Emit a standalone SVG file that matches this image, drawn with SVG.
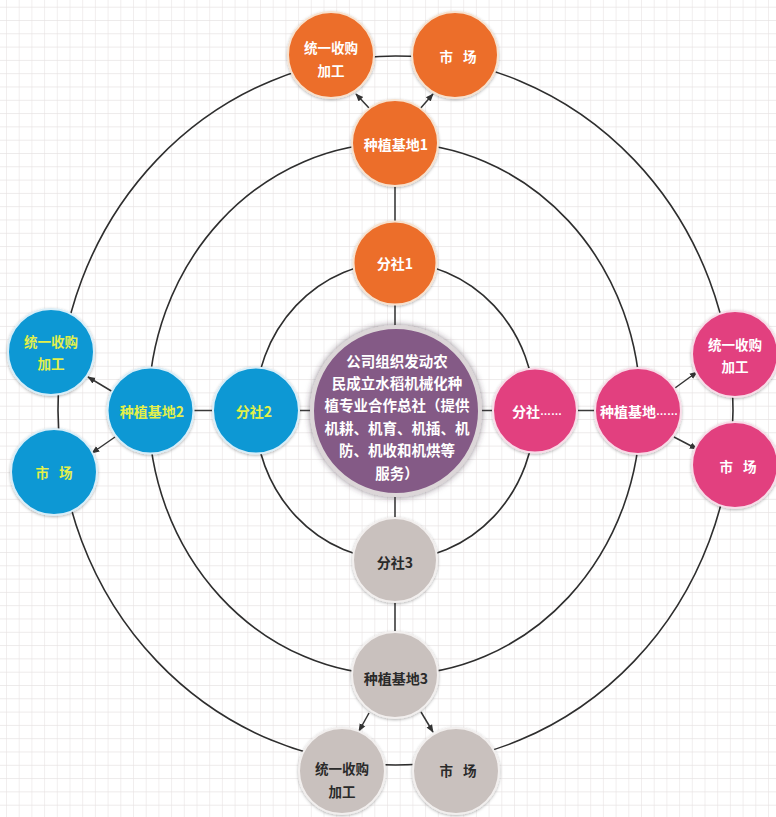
<svg xmlns="http://www.w3.org/2000/svg" width="776" height="817" viewBox="0 0 776 817">
<defs>
<pattern id="grid" x="6" y="6.7" width="12.7" height="13.3" patternUnits="userSpaceOnUse">
<path d="M0,0 V13.3 M0,0 H12.7" fill="none" stroke="#e8e3e3" stroke-width="1.2"/>
</pattern>
<filter id="sh" x="-30%" y="-30%" width="160%" height="160%">
<feDropShadow dx="0" dy="1" stdDeviation="1.6" flood-color="#000" flood-opacity="0.3"/>
</filter>
<filter id="shc" x="-30%" y="-30%" width="160%" height="160%">
<feDropShadow dx="0" dy="0" stdDeviation="3" flood-color="#3a2a3a" flood-opacity="0.6"/>
</filter>
<marker id="arr" viewBox="0 0 10 10" refX="9" refY="5" markerWidth="8" markerHeight="8" orient="auto" markerUnits="userSpaceOnUse">
<path d="M0,1 L10,5 L0,9 z" fill="#333"/>
</marker>
<style>
.ring{fill:none;stroke:#2e2e2e;stroke-width:1.6}
.spoke{fill:none;stroke:#3a3a3a;stroke-width:1.6}
.arrow{fill:none;stroke:#333;stroke-width:1.5;marker-end:url(#arr)}
.node circle{stroke-width:2;filter:url(#sh)}
.o circle{fill:#ec6e2b;stroke:#f7e2cf}
.b circle{fill:#0f98d4;stroke:#d9eef8}
.p circle{fill:#e2417f;stroke:#f8dce8}
.g circle{fill:#c9c1be;stroke:#f2efee}
text{font-family:"Noto Sans CJK SC","Microsoft YaHei",sans-serif;font-weight:bold;font-size:14px;text-anchor:middle;dominant-baseline:central}
.o text,.p text{fill:#ffffff}
.b text{fill:#e3f04a}
.g text{fill:#2a2a2a}
.sm{font-size:13.5px}
.dots{font-family:"Liberation Sans",sans-serif;font-size:11px}
.ctr circle{fill:#845a86;stroke:#dcd6d8;stroke-width:4;filter:url(#shc)}
.ctr text{fill:#ffffff;font-size:14.5px}
</style>
</defs>
<rect width="776" height="817" fill="#ffffff"/>
<rect width="776" height="817" fill="url(#grid)"/>

<g id="connectors">
<ellipse class="ring" cx="395.5" cy="410.5" rx="337.5" ry="354.5"/>
<ellipse class="ring" cx="394.5" cy="409" rx="246" ry="266"/>
<ellipse class="ring" cx="395" cy="411" rx="140" ry="149"/>
<line class="spoke" x1="395" y1="143" x2="395" y2="675"/>
<line class="spoke" x1="150" y1="410.5" x2="638" y2="410.5"/>
<line class="arrow" x1="369" y1="108" x2="356" y2="94"/>
<line class="arrow" x1="419" y1="110" x2="433" y2="94"/>
<line class="arrow" x1="113" y1="392" x2="88" y2="377"/>
<line class="arrow" x1="115" y1="437" x2="92" y2="453"/>
<line class="arrow" x1="675" y1="388" x2="697" y2="372"/>
<line class="arrow" x1="674" y1="437" x2="697" y2="449"/>
<line class="arrow" x1="369" y1="713" x2="359" y2="731"/>
<line class="arrow" x1="421" y1="712" x2="433" y2="732"/>
</g>

<g id="top-jg" class="node o"><circle cx="331" cy="55" r="43"/><text class="sm" x="331" y="47">统一收购</text><text class="sm" x="331" y="70">加工</text></g>
<g id="top-sc" class="node o"><circle cx="455" cy="55" r="43"/><text class="sm" x="458" y="56" style="word-spacing:7px">市 场</text></g>
<g id="base1" class="node o"><circle cx="395" cy="143" r="43"/><text x="396" y="144">种植基地1</text></g>
<g id="fs1" class="node o"><circle cx="395" cy="263" r="41.5"/><text x="395" y="263">分社1</text></g>

<g id="left-jg" class="node b"><circle cx="51" cy="352" r="43"/><text class="sm" x="51" y="341">统一收购</text><text class="sm" x="51" y="363">加工</text></g>
<g id="left-sc" class="node b"><circle cx="54" cy="472" r="43"/><text class="sm" x="54" y="472" style="word-spacing:7px">市 场</text></g>
<g id="base2" class="node b"><circle cx="150.5" cy="410.5" r="43"/><text x="152" y="411">种植基地2</text></g>
<g id="fs2" class="node b"><circle cx="256" cy="410.5" r="43"/><text x="254" y="411">分社2</text></g>

<g id="right-jg" class="node p"><circle cx="735" cy="354" r="43"/><text class="sm" x="735" y="344">统一收购</text><text class="sm" x="735" y="366">加工</text></g>
<g id="right-sc" class="node p"><circle cx="735" cy="465" r="43"/><text class="sm" x="738" y="466" style="word-spacing:7px">市 场</text></g>
<g id="base-n" class="node p"><circle cx="638" cy="411" r="43"/><text x="639" y="411">种植基地<tspan class="dots">……</tspan></text></g>
<g id="fs-n" class="node p"><circle cx="535" cy="410.5" r="42"/><text x="537" y="411">分社<tspan class="dots">……</tspan></text></g>

<g id="bot-jg" class="node g"><circle cx="342" cy="771" r="43"/><text class="sm" x="342" y="768">统一收购</text><text class="sm" x="342" y="791">加工</text></g>
<g id="bot-sc" class="node g"><circle cx="456" cy="771" r="43"/><text class="sm" x="458" y="770" style="word-spacing:7px">市 场</text></g>
<g id="base3" class="node g"><circle cx="395" cy="675" r="43"/><text x="396" y="678">种植基地3</text></g>
<g id="fs3" class="node g"><circle cx="395" cy="560" r="42"/><text x="395" y="562">分社3</text></g>

<g id="center" class="ctr">
<circle cx="396" cy="411" r="84"/>
<text x="397" y="360">公司组织发动农</text>
<text x="397" y="382">民成立水稻机械化种</text>
<text x="397" y="404">植专业合作总社（提供</text>
<text x="397" y="427">机耕、机育、机插、机</text>
<text x="397" y="449">防、机收和机烘等</text>
<text x="397" y="472">服务）</text>
</g>
</svg>
